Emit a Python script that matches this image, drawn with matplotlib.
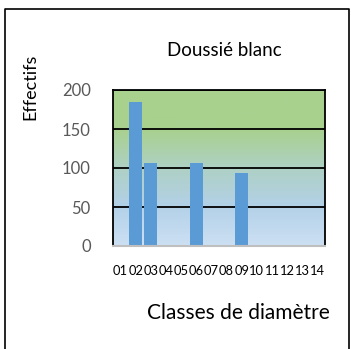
import numpy as np
import matplotlib
matplotlib.use("Agg")
from matplotlib import pyplot as plt
from matplotlib.colors import LinearSegmentedColormap

# diameter classes and counts
classes = ["01", "02", "03", "04", "05", "06", "07", "08", "09", "10", "11", "12", "13", "14"]
effectifs = [0, 185, 106, 0, 0, 107, 0, 0, 93, 0, 0, 0, 0, 0]
yticks = [0, 50, 100, 150, 200]

plt.rcParams['font.family'] = ['Lato', 'DejaVu Sans']

fig = plt.figure(figsize=(3.51, 3.49), dpi=100)
ax = fig.add_axes([113/351, 1 - 246/349, 212/351, 156/349])

# outer frame (left, top, right)
fig.add_artist(plt.Line2D([5/351, 5/351, 349/351, 349/351], [0, 1 - 9/349, 1 - 9/349, 0],
                          transform=fig.transFigure, color='black', lw=1.2))

x = np.arange(len(classes))
ax.set_xlim(-0.5, len(classes) - 0.5)
ax.set_ylim(0, 200)

# gradient background: light blue at bottom, green at top
cmap = LinearSegmentedColormap.from_list('bg', ['#cde0f3', '#b3d1e8', '#aed0c4', '#a9d18e', '#a9d18e'])
grad = np.linspace(0, 1, 256).reshape(-1, 1)
ax.imshow(grad, cmap=cmap, origin='lower', aspect='auto',
          extent=(-0.5, len(classes) - 0.5, 0, 200), zorder=0)

for v in yticks[1:]:
    ax.axhline(v, color='black', lw=1.3, zorder=1)

ax.bar(x, effectifs, width=0.85, color='#5b9bd5', zorder=2)

ax.set_xticks(x)
ax.set_xticklabels(classes, fontsize=9.3, color='black')
ax.set_yticks(yticks)
ax.set_yticklabels([str(v) for v in yticks], fontsize=12, color='#595959')
ax.tick_params(length=0)
ax.tick_params(axis='x', pad=14)
ax.tick_params(axis='y', pad=16)

for side in ['left', 'top', 'right']:
    ax.spines[side].set_color('black')
    ax.spines[side].set_linewidth(1.3)
ax.spines['bottom'].set_color('#bfbfbf')
ax.spines['bottom'].set_linewidth(1.5)

fig.text(224/351, 1 - 50/349, "Doussié blanc", ha='center', va='center', fontsize=13.5)
fig.text(30/351, 1 - 87/349, "Effectifs", ha='center', va='center', rotation=90, fontsize=13)
fig.text(238/351, 1 - 313/349, "Classes de diamètre", ha='center', va='center', fontsize=15)

fig.savefig('out.png', dpi=100)
